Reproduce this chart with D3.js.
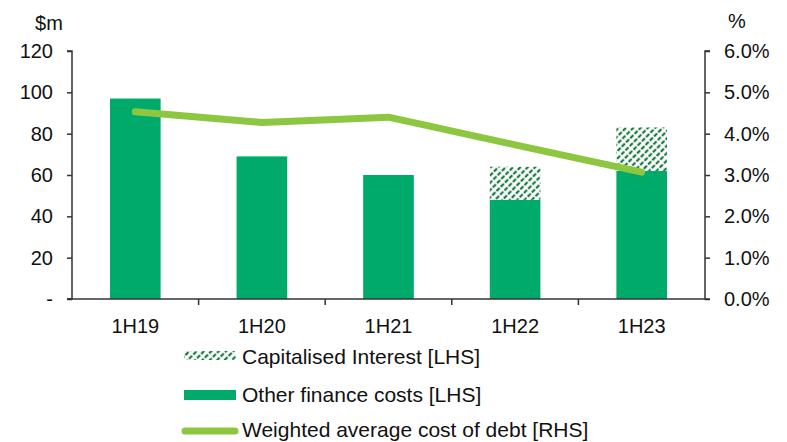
<!DOCTYPE html>
<html><head><meta charset="utf-8">
<script src="https://cdn.jsdelivr.net/npm/d3@7"></script>
<style>body{margin:0;background:#fff}svg{display:block}text{font-family:"Liberation Sans",Arial,sans-serif;fill:#111}</style>
</head><body><svg id="c" width="787" height="442"></svg>
<script>
const categories = ["1H19","1H20","1H21","1H22","1H23"];
const otherFinance = [97, 69, 60, 48, 62];
const capitalised = [0, 0, 0, 16, 21];
const wacd = [4.53, 4.27, 4.4, 3.73, 3.07];
const leftTicks = [0,20,40,60,80,100,120];
const rightTicks = [0,1,2,3,4,5,6];

const svg = d3.select("#c");
const m = {l:72, r:705, t:51, b:299};
const x = d3.scaleBand().domain(categories).range([m.l, m.r]).paddingInner(0.6).paddingOuter(0.3);
const xb = d3.scaleBand().domain(categories).range([m.l, m.r]);
const yL = d3.scaleLinear().domain([0,120]).range([m.b, m.t]);
const yR = d3.scaleLinear().domain([0,6]).range([m.b, m.t]);
const green = "#00AA6A", lime = "#8DC63F", hatchC = "#17783F";
const FS = 20;

const defs = svg.append("defs");
const pat = defs.append("pattern").attr("id","hatch").attr("patternUnits","userSpaceOnUse")
  .attr("width",6).attr("height",5.2).attr("patternTransform","rotate(-45)");
pat.append("rect").attr("width",6).attr("height",5.2).attr("fill","#fff");
pat.append("rect").attr("x",0).attr("y",1.5).attr("width",4.4).attr("height",2.2).attr("fill",hatchC);

// bars
const g = svg.append("g");
categories.forEach((c,i)=>{
  g.append("rect").attr("x",x(c)).attr("width",x.bandwidth())
    .attr("y",yL(otherFinance[i])).attr("height",yL(0)-yL(otherFinance[i]))
    .attr("fill",green);
  if (capitalised[i]>0) {
    const top = otherFinance[i]+capitalised[i];
    g.append("rect").attr("x",x(c)).attr("width",x.bandwidth())
      .attr("y",yL(top)).attr("height",yL(otherFinance[i])-yL(top))
      .attr("fill","url(#hatch)");
  }
});

// axes
const fmtL = d => d===0 ? "-" : d;
const axL = svg.append("g").attr("transform",`translate(${m.l},0)`)
  .call(d3.axisLeft(yL).tickValues(leftTicks).tickFormat(fmtL).tickSize(5).tickPadding(14));
const axR = svg.append("g").attr("transform",`translate(${m.r},0)`)
  .call(d3.axisRight(yR).tickValues(rightTicks).tickFormat(d=>d.toFixed(1)+"%").tickSize(5).tickPadding(14));
const axB = svg.append("g").attr("transform",`translate(0,${m.b})`)
  .call(d3.axisBottom(xb).tickSize(0).tickPadding(20));
[axL,axR,axB].forEach(a=>{
  a.selectAll("path.domain").attr("stroke","#333").attr("stroke-width",1.5);
  a.selectAll("line").attr("stroke","#333").attr("stroke-width",1.5);
  a.selectAll("text").attr("font-size",FS).style("font-family","Liberation Sans, Arial, sans-serif").attr("fill","#111");
});
axL.select("path.domain").attr("d",`M-5,${m.t}H0V${m.b}H-5`);
axR.select("path.domain").attr("d",`M5,${m.t}H0V${m.b}H5`);
axB.select("path.domain").attr("d",`M${m.l-5},0H${m.r}`);
// category boundary ticks
categories.slice(1).forEach(c=>{
  axB.append("line").attr("x1",xb(c)).attr("x2",xb(c)).attr("y1",0).attr("y2",6)
    .attr("stroke","#333").attr("stroke-width",1.5);
});

// line
const line = d3.line().x((d,i)=>x(categories[i])+x.bandwidth()/2).y(d=>yR(d));
svg.append("path").datum(wacd).attr("d",line).attr("fill","none")
  .attr("stroke",lime).attr("stroke-width",7).attr("stroke-linecap","round").attr("stroke-linejoin","round");

// axis titles
svg.append("text").attr("x",49).attr("y",30).attr("text-anchor","middle").attr("font-size",FS).text("$m");
svg.append("text").attr("x",737).attr("y",28).attr("text-anchor","middle").attr("font-size",FS).text("%");

// legend
const LF = 21;
const lg = svg.append("g");
lg.append("rect").attr("x",184).attr("y",351).attr("width",52).attr("height",9).attr("fill","url(#hatch)");
lg.append("text").attr("x",242).attr("y",364).attr("font-size",LF).text("Capitalised Interest [LHS]");
lg.append("rect").attr("x",184).attr("y",390).attr("width",52).attr("height",10).attr("fill",green);
lg.append("text").attr("x",242).attr("y",402).attr("font-size",LF).text("Other finance costs [LHS]");
lg.append("line").attr("x1",185).attr("x2",235).attr("y1",431).attr("y2",431)
  .attr("stroke",lime).attr("stroke-width",7).attr("stroke-linecap","round");
lg.append("text").attr("x",242).attr("y",437).attr("font-size",LF).text("Weighted average cost of debt [RHS]");
</script></body></html>
